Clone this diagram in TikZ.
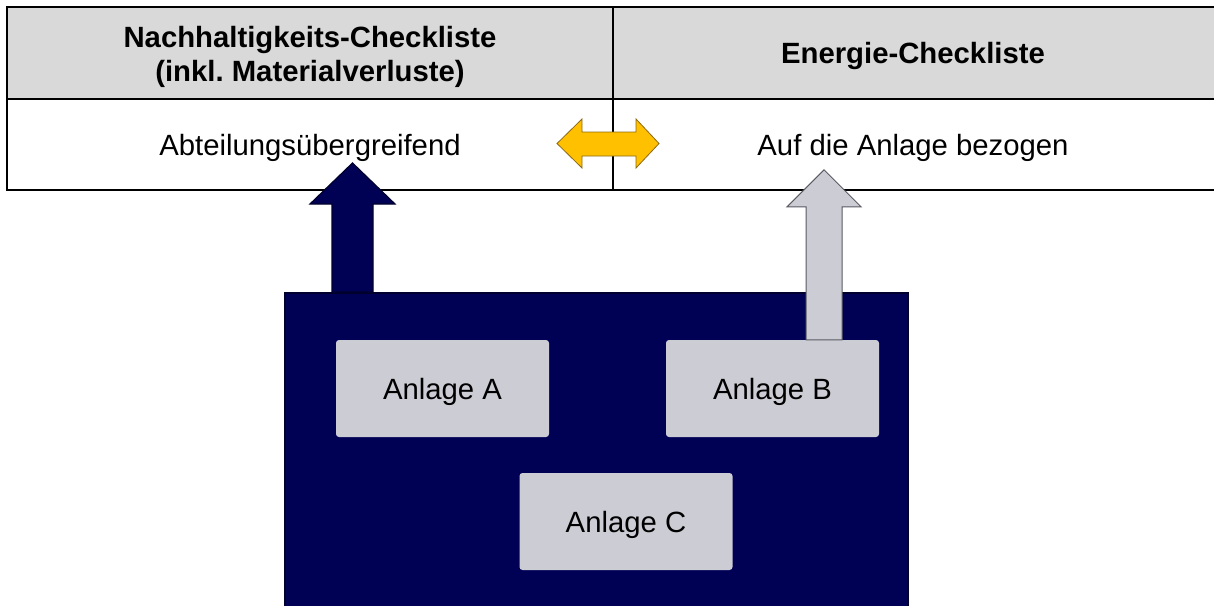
\documentclass[tikz,border=0pt]{standalone}
\usepackage{fontspec}
\setmainfont{Liberation Sans}
\usetikzlibrary{calc}
\frenchspacing

\definecolor{navy}{RGB}{0,0,85}
\definecolor{navyedge}{RGB}{0,0,45}
\definecolor{headgray}{RGB}{217,217,217}
\definecolor{plantgray}{RGB}{204,204,212}
\definecolor{plantedge}{RGB}{90,90,100}
\definecolor{amber}{RGB}{255,192,0}
\definecolor{amberedge}{RGB}{140,105,20}

\tikzset{
  rule/.style={line width=2.4pt, black},
  headtext/.style={font=\fontsize{29.3}{34}\selectfont\bfseries, align=center, inner sep=0pt},
  celltext/.style={font=\fontsize{29.3}{34}\selectfont, inner sep=0pt},
  site/.style={fill=navy, draw=navyedge, line width=1.5pt, anchor=north west,
    minimum width=623pt, minimum height=330pt, inner sep=0pt},
  plant/.style={fill=plantgray, draw=none, rounded corners=3pt,
    minimum width=213pt, minimum height=97pt, inner sep=0pt, text depth=0pt,
    font=\fontsize{29.3}{34}\selectfont},
  darkarrow/.style={fill=navy, draw=navyedge, line width=1.2pt, line join=miter},
  lightarrow/.style={fill=plantgray, draw=plantedge, line width=1pt, line join=miter},
  swaparrow/.style={fill=amber, draw=amberedge, line width=0.8pt, line join=miter},
}

\begin{document}
\begin{tikzpicture}[x=1pt, y=-1pt]
  \useasboundingbox (0,0) rectangle (1214,605);

  % table: grey header row, rules and column divider
  \fill[headgray] (7,7) rectangle (1214,99);
  \draw[rule] (1214,7) -- (7,7) -- (7,190) -- (1214,190);
  \draw[rule] (7,99) -- (1214,99);
  \draw[line width=2pt] (613,7) -- (613,190);

  \node[headtext] (headL) at (310,57) {Nachhaltigkeits-Checkliste\\(inkl. Materialverluste)};
  \node[headtext] (headR) at (913,56) {Energie-Checkliste};
  \node[celltext] (cellL) at (310,148) {Abteilungsübergreifend};
  \node[celltext] (cellR) at (913,148) {Auf die Anlage bezogen};

  % two-way arrow across the divider
  \draw[swaparrow] (557,143.5) -- (582,119) -- (582,132) -- (636,132) -- (636,119)
    -- (659,143.5) -- (636,168) -- (636,156) -- (582,156) -- (582,168) -- cycle;

  % site with its plants
  \node[site] (site) at (284,292) {};
  \node[plant] (plantA) at (442.5,388.5) {Anlage A};
  \node[plant] (plantB) at (772.5,388.5) {Anlage B};
  \node[plant] (plantC) at (626,521.5) {Anlage C};

  % site-wide arrow into the sustainability checklist
  \coordinate (siteOut) at ($(site.north west)+(68.5,0)$);
  \draw[darkarrow] ($(siteOut)+(-20.5,0)$) -- ($(siteOut)+(-20.5,-88)$)
    -- ($(siteOut)+(-42.5,-88)$) -- ($(siteOut)+(0,-129)$)
    -- ($(siteOut)+(42.5,-88)$) -- ($(siteOut)+(20.5,-88)$)
    -- ($(siteOut)+(20.5,0)$) -- cycle;

  % plant arrow into the energy checklist
  \coordinate (plantOut) at ($(plantB.north)+(51.5,0)$);
  \draw[lightarrow] ($(plantOut)+(-18,0)$) -- ($(plantOut)+(-18,-133)$)
    -- ($(plantOut)+(-37,-133)$) -- ($(plantOut)+(0,-170)$)
    -- ($(plantOut)+(37,-133)$) -- ($(plantOut)+(18,-133)$)
    -- ($(plantOut)+(18,0)$) -- cycle;
\end{tikzpicture}
\end{document}
